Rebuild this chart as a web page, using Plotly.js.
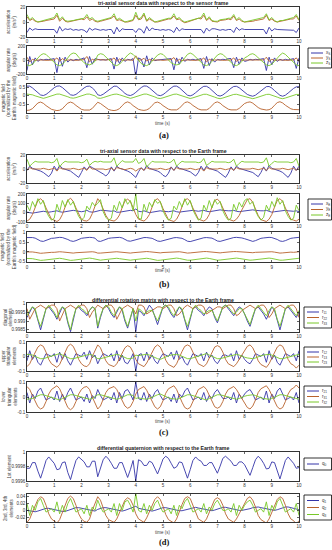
<!DOCTYPE html>
<html><head><meta charset="utf-8">
<script src="https://cdn.plot.ly/plotly-3.0.1.min.js"></script>
<style>html,body{margin:0;padding:0;background:#fff}#chart{width:332px;height:550px}</style>
</head><body><div id="chart"></div>
<script>
// ---------------- data (sampled every 0.1 s from t = 0 to 10 s) ----------------
const T_START = 0, T_STEP = 0.1;
const timeTicks = [0,1,2,3,4,5,6,7,8,9,10];

// (a) sensor frame
const accS_x = [-14,-8,-11,-9,-10,-10,-11,-10,-10,-10, -10,-15,-6,-12,-9,-10,-9,-11,-10,-11,-10, -11,-14,-8,-11,-9,-10,-11,-10,-11,-10, -10,-16,-7,-13,-9,-10,-10,-11,-10,-14,-9, -10,-15,-6,-12,-8,-10,-10,-11,-10,-11,-10, -11,-14,-7,-12,-9,-10,-10,-10,-11,-10,-10, -10,-15,-8,-12,-9,-9,-10,-11,-10,-11,-10, -10,-14,-7,-11,-9,-10,-10,-10,-11,-10,-11,-10, -10,-16,-7,-12,-9,-10,-10,-11,-10,-10,-10, -11,-14,-8];
const accS_y = [7,2,4,1,0,0,1,2,3,4, 4,9,1,5,1,0,1,1,2,3,4, 3,7,2,4,1,0,1,2,3,4, 5,8,2,3,1,0,0,1,2,9,3, 4,10,1,4,2,0,0,1,3,3,4, 4,8,3,4,1,-1,0,1,2,3,5, 4,9,2,5,1,0,0,2,2,3,4, 3,8,2,4,1,0,0,0,1,2,3,4, 4,9,2,4,1,0,1,1,2,3,4, 4,8,2];
const accS_z = [10,3,6,2,0,1,2,3,4,5, 6,12,3,7,2,1,1,2,3,4,5, 5,10,4,6,2,1,2,3,4,6, 6,11,3,5,2,0,1,2,3,13,4, 6,12,2,6,3,0,1,2,4,4,5, 5,11,4,6,2,0,1,2,3,5,6, 6,12,3,7,2,1,1,3,3,4,5, 5,10,3,6,2,0,1,1,2,3,4,5, 6,11,3,6,2,0,2,2,3,4,5, 6,10,3];
const gyrS_x = [-150,50,-70,30,-20,10,0,10,5,15, 20,-180,40,-90,40,-30,10,-10,10,0,20, 30,-110,50,-60,20,10,0,5,0,10, 20,-130,40,-50,30,-20,10,0,20,-240,30, 10,-100,60,-70,30,-10,0,5,10,5,15, 20,-140,30,-60,40,-20,10,0,10,0,10, 20,-120,50,-80,20,-30,10,0,10,5,20, 20,-110,40,-60,30,-20,-10,10,0,10,5,15, 20,-150,40,-70,30,-20,10,-5,10,0,15, 20,-120,30];
const gyrS_y = [40,-30,10,-5,0,5,0,-5,0,5, 0,30,-20,20,-5,0,5,0,-5,0,5, 5,50,-25,10,-5,5,0,-5,0,5, 0,30,-20,15,-5,0,5,0,-5,60,0, 0,25,-15,10,-5,0,5,0,-5,0,5, 5,35,-20,10,-10,0,5,0,-5,0,5, 0,30,-25,10,-5,0,5,0,-5,0,5, 0,30,-20,10,-5,0,0,5,0,-5,0,5, 0,40,-20,10,-5,0,5,0,-5,0,5, 0,30,-20];
const gyrS_z = [-70,-80,-60,-20,30,70,90,80,40,0, -40,-70,-80,-60,-20,30,80,100,90,40,0, -40,-60,-70,-50,-20,70,90,80,40,0, -40,-70,-80,-60,-20,30,70,100,80,40,0, -50,-70,-80,-60,-20,30,70,90,80,40,0, -40,-60,-70,-60,-20,30,80,100,80,40,0, -40,-70,-80,-60,-20,30,70,90,80,40,0, -40,-70,-80,-60,-20,30,50,80,90,70,30,0, -40,-70,-80,-60,-20,30,70,100,80,40,0, -40,-70,-80];
const magS_x = [0.55,0.55,0.45,0.3,0.15,0.05,0.02,0.08,0.2,0.35, 0.46,0.55,0.56,0.47,0.32,0.16,0.06,0.03,0.08,0.2,0.34, 0.45,0.54,0.55,0.45,0.3,0.06,0.02,0.09,0.21,0.36, 0.46,0.55,0.54,0.44,0.29,0.14,0.05,0.02,0.08,0.2,0.35, 0.47,0.56,0.55,0.45,0.31,0.16,0.05,0.01,0.07,0.19,0.34, 0.45,0.55,0.55,0.46,0.31,0.15,0.04,0.0,0.06,0.18,0.33, 0.44,0.54,0.54,0.45,0.3,0.14,0.03,-0.01,0.05,0.17,0.32, 0.43,0.53,0.54,0.46,0.32,0.18,0.08,0.02,-0.02,0.04,0.16,0.31, 0.42,0.52,0.53,0.44,0.3,0.14,0.03,-0.02,0.04,0.16,0.3, 0.42,0.51,0.52];
const magS_y = [-0.82,-0.8,-0.72,-0.55,-0.4,-0.35,-0.42,-0.55,-0.68,-0.76, -0.8,-0.83,-0.81,-0.73,-0.56,-0.41,-0.35,-0.41,-0.54,-0.67,-0.76, -0.8,-0.82,-0.8,-0.71,-0.54,-0.36,-0.43,-0.56,-0.68,-0.77, -0.81,-0.83,-0.8,-0.72,-0.55,-0.4,-0.34,-0.41,-0.55,-0.68,-0.76, -0.8,-0.82,-0.79,-0.71,-0.54,-0.39,-0.35,-0.42,-0.55,-0.67,-0.75, -0.79,-0.81,-0.79,-0.7,-0.53,-0.38,-0.34,-0.41,-0.54,-0.66,-0.74, -0.79,-0.81,-0.79,-0.71,-0.54,-0.39,-0.34,-0.41,-0.55,-0.67,-0.75, -0.79,-0.81,-0.79,-0.71,-0.55,-0.43,-0.37,-0.34,-0.41,-0.54,-0.66,-0.74, -0.78,-0.8,-0.78,-0.7,-0.53,-0.38,-0.33,-0.4,-0.53,-0.65,-0.73, -0.77,-0.79,-0.78];
const magS_z = [0.1,0.1,0.06,0.0,-0.06,-0.12,-0.14,-0.1,-0.04,0.02, 0.06,0.1,0.1,0.06,0.01,-0.05,-0.11,-0.13,-0.1,-0.04,0.02, 0.06,0.1,0.1,0.06,0.0,-0.12,-0.14,-0.1,-0.04,0.02, 0.05,0.09,0.1,0.06,0.0,-0.06,-0.12,-0.14,-0.1,-0.05,0.01, 0.05,0.1,0.1,0.06,0.0,-0.06,-0.13,-0.15,-0.11,-0.05,0.01, 0.05,0.09,0.1,0.05,0.0,-0.07,-0.13,-0.15,-0.11,-0.05,0.01, 0.04,0.09,0.09,0.05,-0.01,-0.07,-0.13,-0.16,-0.12,-0.06,0.0, 0.04,0.08,0.09,0.05,0.0,-0.05,-0.09,-0.13,-0.16,-0.12,-0.06,0.0, 0.04,0.08,0.09,0.05,-0.01,-0.07,-0.13,-0.16,-0.12,-0.06,0.0, 0.04,0.08,0.08];

// (b) Earth frame
const accE_x = [-2,4,1,0,-1,-3,-5,-8,-11,-6, 4,-2,5,1,0,-1,-3,-6,-9,-12,-5, 3,-1,4,2,0,-2,-5,-7,-10,-6, 3,-3,4,1,0,-1,-3,-5,-8,-12,-4, 2,-2,5,1,0,-1,-3,-5,-9,-11,-6, 3,-2,4,1,0,-1,-2,-4,-7,-10,-5, 4,-2,4,1,0,-1,-3,-6,-9,-12,-6, 3,-2,4,1,0,-1,-2,-3,-5,-8,-11,-5, 3,-3,5,1,0,-1,-3,-5,-9,-12,-6, 4,-2,4];
const accE_y = [-2,2,0,0,-1,0,1,0,-1,0, 1,-3,2,0,0,-1,0,1,0,-1,0, 1,-2,3,0,0,0,1,0,-1,0, 1,-2,2,1,0,-1,0,1,0,-3,0, 1,-2,2,0,0,-1,0,1,0,-1,0, 2,-2,2,0,0,-1,0,1,0,-1,0, 1,-3,2,0,0,-1,0,1,0,-1,0, 1,-2,2,0,0,-1,-1,0,1,0,-1,0, 1,-2,2,0,0,-1,0,1,0,-1,0, 1,-2,2];
const accE_z = [14,4,8,11,10,10,11,10,10,9, 10,15,3,8,11,10,10,11,10,10,9, 10,14,5,9,11,10,11,10,10,9, 10,16,4,8,12,10,10,11,10,15,8, 10,15,3,7,11,10,10,11,10,10,9, 10,14,4,8,11,10,10,11,10,10,9, 10,15,5,8,11,10,10,11,10,10,9, 10,14,4,8,11,10,10,10,11,10,10,9, 10,16,4,8,11,10,10,11,10,10,9, 10,15,4];
const gyrE_x = [5,0,-5,0,5,10,15,10,5,10, 15,20,10,5,10,15,20,25,20,15,10, 15,25,10,5,10,20,25,25,20,15, 15,20,5,5,10,15,20,25,20,40,15, 10,20,10,0,5,10,15,20,15,10,10, 15,20,10,5,10,15,20,25,25,20,15, 20,25,15,10,15,20,25,30,25,20,20, 20,25,15,10,15,20,25,30,30,25,20,20, 20,25,15,5,10,15,20,25,25,20,15, 15,20,10];
const gyrE_y = [-90,-70,-20,60,130,150,120,50,-20,-70, -80,-95,-75,-20,60,130,155,120,50,-20,-70, -85,-90,-70,-10,70,150,110,40,-30,-75, -80,-90,-70,-25,55,125,145,120,55,-20,-70, -80,-90,-65,-20,60,130,150,115,45,-25,-75, -85,-95,-70,-15,65,135,150,120,50,-20,-70, -80,-90,-70,-20,60,130,145,115,50,-20,-70, -80,-90,-70,-30,30,90,140,150,110,40,-30,-75, -85,-95,-70,-20,60,130,150,120,50,-20,-70, -80,-90,-70];
const gyrE_z = [80,20,120,60,150,90,130,20,-40,-80, -60,90,10,130,60,140,80,120,30,-40,-80, -50,70,30,110,70,100,140,10,-50,-80, -60,80,20,120,50,150,90,130,20,200,-60, -70,90,10,110,60,140,100,120,20,-40,-80, -60,70,30,120,60,150,80,130,30,-30,-80, -60,80,20,130,50,140,90,120,20,-40,-80, -60,90,20,110,60,130,150,90,120,20,-40,-80, -50,80,20,120,60,160,90,130,20,-40,-80, -60,80,20];
const magE_x = [0.75,0.76,0.75,0.72,0.65,0.57,0.55,0.6,0.67,0.71, 0.72,0.75,0.76,0.75,0.72,0.65,0.58,0.55,0.59,0.66,0.71, 0.73,0.75,0.76,0.75,0.72,0.57,0.55,0.6,0.67,0.71, 0.73,0.75,0.76,0.76,0.73,0.66,0.58,0.56,0.6,0.67,0.71, 0.73,0.75,0.75,0.74,0.71,0.64,0.57,0.55,0.59,0.66,0.7, 0.72,0.74,0.75,0.74,0.71,0.64,0.56,0.54,0.58,0.65,0.7, 0.72,0.74,0.75,0.75,0.72,0.65,0.57,0.55,0.59,0.66,0.71, 0.73,0.75,0.76,0.75,0.73,0.69,0.63,0.57,0.55,0.59,0.66,0.71, 0.73,0.75,0.76,0.75,0.72,0.65,0.57,0.55,0.59,0.66,0.71, 0.73,0.75,0.76];
const magE_y = [0.0,0.01,0.0,-0.02,-0.05,-0.07,-0.06,-0.04,-0.03,-0.02, -0.02,0.0,0.01,0.0,-0.02,-0.05,-0.07,-0.06,-0.04,-0.03,-0.02, -0.02,0.0,0.01,0.01,-0.01,-0.06,-0.06,-0.04,-0.03,-0.02, -0.01,0.0,0.01,0.0,-0.02,-0.04,-0.06,-0.06,-0.04,-0.02,-0.01, -0.01,0.01,0.02,0.01,-0.01,-0.04,-0.06,-0.05,-0.03,-0.02,-0.01, -0.01,0.01,0.02,0.01,-0.01,-0.04,-0.06,-0.05,-0.03,-0.02,-0.01, 0.0,0.02,0.02,0.01,-0.01,-0.03,-0.05,-0.05,-0.03,-0.01,0.0, 0.0,0.02,0.02,0.01,0.0,-0.02,-0.04,-0.05,-0.04,-0.02,-0.01,0.0, -0.01,0.01,0.02,0.01,-0.01,-0.04,-0.06,-0.05,-0.03,-0.02,-0.01, -0.02,0.0,0.01];
const magE_z = [-0.34,-0.33,-0.35,-0.38,-0.42,-0.44,-0.43,-0.41,-0.39,-0.37, -0.36,-0.34,-0.33,-0.35,-0.38,-0.42,-0.44,-0.43,-0.41,-0.39,-0.37, -0.35,-0.33,-0.32,-0.34,-0.37,-0.43,-0.43,-0.41,-0.39,-0.37, -0.36,-0.34,-0.33,-0.35,-0.38,-0.41,-0.43,-0.43,-0.41,-0.39,-0.37, -0.36,-0.34,-0.33,-0.35,-0.38,-0.42,-0.44,-0.43,-0.41,-0.39,-0.37, -0.35,-0.33,-0.32,-0.34,-0.37,-0.41,-0.43,-0.43,-0.41,-0.39,-0.37, -0.35,-0.33,-0.32,-0.34,-0.37,-0.41,-0.43,-0.42,-0.4,-0.38,-0.36, -0.35,-0.33,-0.32,-0.34,-0.37,-0.4,-0.42,-0.43,-0.42,-0.4,-0.38,-0.36, -0.35,-0.33,-0.32,-0.34,-0.37,-0.41,-0.43,-0.43,-0.41,-0.39,-0.37, -0.36,-0.34,-0.33];

// (c) differential rotation matrix
const r11 = [0.9992,0.9995,0.9998,0.9996,0.999,0.9985,0.9991,0.9997,0.9998,0.9996, 0.9994,0.9991,0.9995,0.9998,0.9996,0.9989,0.9984,0.9991,0.9997,0.9998,0.9996, 0.9995,0.9993,0.9996,0.9998,0.9997,0.9986,0.9992,0.9997,0.9999,0.9997, 0.9994,0.9992,0.9995,0.9998,0.9996,0.999,0.9986,0.9991,0.9997,0.9984,0.9996, 0.9995,0.9993,0.9996,0.9999,0.9997,0.9992,0.9988,0.9993,0.9998,0.9999,0.9997, 0.9994,0.9992,0.9995,0.9998,0.9996,0.999,0.9985,0.9991,0.9997,0.9998,0.9996, 0.9995,0.9993,0.9996,0.9998,0.9997,0.9992,0.9989,0.9993,0.9998,0.9999,0.9997, 0.9995,0.9993,0.9996,0.9998,0.9997,0.9994,0.999,0.9987,0.9992,0.9997,0.9998,0.9996, 0.9994,0.9991,0.9995,0.9998,0.9996,0.999,0.9985,0.9991,0.9997,0.9998,0.9996, 0.9994,0.9992,0.9995];
const r22 = [0.9997,0.9991,0.9994,0.9997,0.9998,0.9999,0.9998,0.9997,0.9998,0.9999, 0.9999,0.9997,0.999,0.9994,0.9997,0.9998,0.9999,0.9998,0.9997,0.9998,0.9999, 0.9999,0.9997,0.9992,0.9995,0.9997,0.9999,0.9998,0.9997,0.9998,0.9999, 0.9999,0.9997,0.9991,0.9994,0.9997,0.9998,0.9999,0.9998,0.9997,0.9994,0.9999, 0.9999,0.9998,0.9994,0.9995,0.9996,0.9997,0.9998,0.9998,0.9997,0.9998,0.9999, 0.9999,0.9997,0.9993,0.9994,0.9996,0.9998,0.9999,0.9998,0.9997,0.9998,0.9999, 0.9999,0.9998,0.9994,0.9995,0.9996,0.9997,0.9998,0.9998,0.9997,0.9998,0.9999, 0.9999,0.9997,0.9993,0.9994,0.9996,0.9997,0.9998,0.9999,0.9998,0.9997,0.9998,0.9999, 0.9999,0.9997,0.9992,0.9994,0.9997,0.9998,0.9999,0.9998,0.9997,0.9998,0.9999, 0.9999,0.9997,0.9992];
const r33 = [0.9993,0.9996,0.9998,0.9997,0.9991,0.9987,0.9992,0.9997,0.9999,0.9997, 0.9995,0.9992,0.9996,0.9998,0.9997,0.999,0.9985,0.9992,0.9997,0.9999,0.9997, 0.9996,0.9994,0.9996,0.9998,0.9997,0.9987,0.9993,0.9997,0.9999,0.9998, 0.9995,0.9993,0.9996,0.9998,0.9997,0.9991,0.9987,0.9992,0.9997,0.999,0.9997, 0.9996,0.9994,0.9995,0.9996,0.9996,0.9993,0.999,0.9994,0.9998,0.9999,0.9998, 0.9995,0.9993,0.9996,0.9998,0.9997,0.9991,0.9987,0.9992,0.9997,0.9999,0.9997, 0.9996,0.9994,0.9995,0.9996,0.9996,0.9993,0.999,0.9994,0.9998,0.9999,0.9998, 0.9996,0.9994,0.9995,0.9997,0.9997,0.9994,0.9991,0.9988,0.9993,0.9997,0.9999,0.9997, 0.9995,0.9993,0.9996,0.9998,0.9997,0.9991,0.9987,0.9992,0.9997,0.9999,0.9997, 0.9995,0.9993,0.9996];
const r12 = [-0.03,0.04,-0.02,0.01,-0.04,-0.06,-0.02,0.02,0.01,0.0, 0.02,-0.04,0.03,-0.02,0.02,-0.03,-0.06,-0.02,0.02,0.01,0.0, 0.03,-0.02,0.04,-0.01,0.01,-0.05,-0.01,0.02,0.01,0.0, 0.02,-0.03,0.04,-0.03,0.01,-0.04,-0.05,-0.02,0.02,-0.1,0.01, 0.02,-0.03,0.03,-0.02,0.01,-0.03,-0.05,-0.01,0.02,0.01,0.0, 0.03,-0.02,0.04,-0.02,0.0,-0.04,-0.06,-0.02,0.02,0.01,0.0, 0.02,-0.03,0.03,-0.01,0.01,-0.03,-0.05,-0.02,0.01,0.01,0.0, 0.02,-0.03,0.04,-0.02,0.01,-0.02,-0.04,-0.05,-0.02,0.02,0.01,0.0, 0.02,-0.04,0.04,-0.02,0.01,-0.04,-0.06,-0.02,0.02,0.01,0.0, 0.02,-0.03,0.04];
const r13 = [-0.07,-0.05,-0.01,0.03,0.065,0.08,0.07,0.03,-0.02,-0.05, -0.06,-0.075,-0.055,-0.01,0.035,0.07,0.085,0.07,0.03,-0.02,-0.05, -0.065,-0.07,-0.05,0.0,0.04,0.08,0.06,0.02,-0.03,-0.055, -0.06,-0.07,-0.05,-0.015,0.025,0.06,0.075,0.065,0.03,-0.02,-0.05, -0.06,-0.07,-0.045,-0.01,0.03,0.065,0.08,0.065,0.025,-0.025,-0.055, -0.065,-0.075,-0.05,-0.005,0.035,0.07,0.08,0.07,0.03,-0.02,-0.05, -0.06,-0.07,-0.05,-0.01,0.03,0.065,0.075,0.065,0.03,-0.02,-0.05, -0.06,-0.07,-0.05,-0.02,0.015,0.045,0.07,0.08,0.06,0.02,-0.03,-0.055, -0.065,-0.075,-0.05,-0.01,0.03,0.065,0.08,0.07,0.03,-0.02,-0.05, -0.06,-0.08,-0.06];
const r23 = [0.015,0.015,0.01,0.0,-0.01,-0.015,-0.015,-0.01,0.0,0.005, 0.01,0.015,0.02,0.01,0.0,-0.01,-0.015,-0.015,-0.01,0.0,0.005, 0.01,0.015,0.015,0.01,0.0,-0.015,-0.015,-0.01,0.0,0.005, 0.01,0.015,0.015,0.01,0.0,-0.01,-0.015,-0.015,-0.01,0.01,0.005, 0.01,0.015,0.015,0.01,0.0,-0.01,-0.015,-0.02,-0.01,0.0,0.005, 0.01,0.015,0.015,0.01,0.0,-0.01,-0.015,-0.015,-0.01,0.0,0.005, 0.01,0.015,0.02,0.01,0.0,-0.01,-0.015,-0.015,-0.01,0.0,0.005, 0.01,0.015,0.015,0.01,0.0,-0.005,-0.01,-0.015,-0.015,-0.01,0.0,0.005, 0.01,0.015,0.015,0.01,0.0,-0.01,-0.015,-0.015,-0.01,0.0,0.005, 0.01,0.015,0.015];
const r21 = [0.03,-0.04,0.02,-0.01,0.04,0.06,0.02,-0.02,-0.01,0.0, -0.02,0.04,-0.03,0.02,-0.02,0.03,0.06,0.02,-0.02,-0.01,0.0, -0.03,0.02,-0.04,0.01,-0.01,0.05,0.01,-0.02,-0.01,0.0, -0.02,0.03,-0.04,0.03,-0.01,0.04,0.05,0.02,-0.02,0.1,-0.01, -0.02,0.03,-0.03,0.02,-0.01,0.03,0.05,0.01,-0.02,-0.01,0.0, -0.03,0.02,-0.04,0.02,0.0,0.04,0.06,0.02,-0.02,-0.01,0.0, -0.02,0.03,-0.03,0.01,-0.01,0.03,0.05,0.02,-0.01,-0.01,0.0, -0.02,0.03,-0.04,0.02,-0.01,0.02,0.04,0.05,0.02,-0.02,-0.01,0.0, -0.02,0.04,-0.04,0.02,-0.01,0.04,0.06,0.02,-0.02,-0.01,0.0, -0.02,0.03,-0.04];
const r31 = [0.07,0.05,0.01,-0.03,-0.065,-0.08,-0.07,-0.03,0.02,0.05, 0.06,0.075,0.055,0.01,-0.035,-0.07,-0.085,-0.07,-0.03,0.02,0.05, 0.065,0.07,0.05,0.0,-0.04,-0.08,-0.06,-0.02,0.03,0.055, 0.06,0.07,0.05,0.015,-0.025,-0.06,-0.075,-0.065,-0.03,0.02,0.05, 0.06,0.07,0.045,0.01,-0.03,-0.065,-0.08,-0.065,-0.025,0.025,0.055, 0.065,0.075,0.05,0.005,-0.035,-0.07,-0.08,-0.07,-0.03,0.02,0.05, 0.06,0.07,0.05,0.01,-0.03,-0.065,-0.075,-0.065,-0.03,0.02,0.05, 0.06,0.07,0.05,0.02,-0.015,-0.045,-0.07,-0.08,-0.06,-0.02,0.03,0.055, 0.065,0.075,0.05,0.01,-0.03,-0.065,-0.08,-0.07,-0.03,0.02,0.05, 0.06,0.08,0.06];
const r32 = [-0.015,-0.015,-0.01,0.0,0.01,0.015,0.015,0.01,0.0,-0.005, -0.01,-0.015,-0.02,-0.01,0.0,0.01,0.015,0.015,0.01,0.0,-0.005, -0.01,-0.015,-0.015,-0.01,0.0,0.015,0.015,0.01,0.0,-0.005, -0.01,-0.015,-0.015,-0.01,0.0,0.01,0.015,0.015,0.01,-0.01,-0.005, -0.01,-0.015,-0.015,-0.01,0.0,0.01,0.015,0.02,0.01,0.0,-0.005, -0.01,-0.015,-0.015,-0.01,0.0,0.01,0.015,0.015,0.01,0.0,-0.005, -0.01,-0.015,-0.02,-0.01,0.0,0.01,0.015,0.015,0.01,0.0,-0.005, -0.01,-0.015,-0.015,-0.01,0.0,0.005,0.01,0.015,0.015,0.01,0.0,-0.005, -0.01,-0.015,-0.015,-0.01,0.0,0.01,0.015,0.015,0.01,0.0,-0.005, -0.01,-0.015,-0.015];

// (d) differential quaternion
const q0 = [0.99978,0.99978,0.99986,0.99986,0.99974,0.99964,0.99976,0.99989,0.99994,0.9999, 0.99985,0.99976,0.99977,0.99986,0.99987,0.99972,0.99962,0.99976,0.99989,0.99994,0.9999, 0.99987,0.9998,0.9998,0.99988,0.99988,0.99966,0.99978,0.9999,0.99995,0.99991, 0.99985,0.99978,0.99978,0.99986,0.99986,0.99974,0.99965,0.99976,0.99989,0.9996,0.9999, 0.99988,0.99982,0.99982,0.99988,0.99986,0.99978,0.9997,0.9998,0.99991,0.99995,0.99992, 0.99985,0.99978,0.9998,0.99987,0.99986,0.99974,0.99964,0.99976,0.99989,0.99994,0.9999, 0.99988,0.99982,0.99982,0.99986,0.99986,0.99978,0.99971,0.99981,0.99992,0.99995,0.99992, 0.99988,0.99982,0.99982,0.99987,0.99987,0.99983,0.99975,0.99968,0.99979,0.9999,0.99995,0.99991, 0.99985,0.99977,0.99978,0.99987,0.99986,0.99974,0.99963,0.99976,0.99989,0.99994,0.9999, 0.99985,0.99978,0.99979];
const q1 = [0.0,-0.002,-0.004,-0.004,-0.002,0.001,0.004,0.006,0.006,0.004, 0.003,0.001,-0.001,-0.003,-0.003,0.0,0.003,0.006,0.008,0.008,0.006, 0.004,0.002,0.0,-0.002,-0.002,0.003,0.006,0.008,0.008,0.006, 0.004,0.002,0.0,-0.002,-0.002,0.0,0.003,0.006,0.008,0.012,0.006, 0.004,0.002,0.0,-0.002,-0.002,0.0,0.003,0.006,0.008,0.008,0.006, 0.005,0.003,0.001,-0.001,-0.001,0.001,0.004,0.007,0.009,0.009,0.007, 0.005,0.003,0.001,-0.001,-0.001,0.001,0.004,0.007,0.009,0.009,0.007, 0.006,0.004,0.002,0.0,0.0,0.001,0.003,0.005,0.008,0.01,0.01,0.008, 0.006,0.004,0.002,0.0,0.0,0.002,0.005,0.008,0.01,0.01,0.008, 0.006,0.004,0.002];
const q2 = [-0.035,-0.025,-0.005,0.015,0.032,0.04,0.035,0.015,-0.01,-0.025, -0.03,-0.037,-0.027,-0.005,0.017,0.035,0.042,0.035,0.015,-0.01,-0.025, -0.032,-0.035,-0.025,0.0,0.02,0.04,0.03,0.01,-0.015,-0.027, -0.03,-0.035,-0.025,-0.007,0.012,0.03,0.037,0.032,0.015,-0.01,-0.025, -0.03,-0.035,-0.022,-0.005,0.015,0.032,0.04,0.032,0.012,-0.012,-0.027, -0.032,-0.037,-0.025,-0.002,0.017,0.035,0.04,0.035,0.015,-0.01,-0.025, -0.03,-0.035,-0.025,-0.005,0.015,0.032,0.037,0.032,0.015,-0.01,-0.025, -0.03,-0.035,-0.025,-0.01,0.007,0.022,0.035,0.04,0.03,0.01,-0.015,-0.027, -0.032,-0.037,-0.025,-0.005,0.015,0.032,0.04,0.035,0.015,-0.01,-0.025, -0.03,-0.04,-0.03];
const q3 = [0.02,-0.015,0.015,0.0,0.025,0.035,0.015,-0.005,0.0,0.005, -0.005,0.025,-0.01,0.015,-0.005,0.02,0.035,0.015,-0.005,0.0,0.005, -0.01,0.015,-0.015,0.01,0.0,0.03,0.01,-0.005,0.0,0.005, -0.005,0.02,-0.015,0.02,0.0,0.025,0.03,0.015,-0.005,0.05,0.0, -0.005,0.02,-0.01,0.015,0.0,0.02,0.03,0.01,-0.005,0.0,0.005, -0.01,0.015,-0.015,0.015,0.005,0.025,0.035,0.015,-0.005,0.0,0.005, -0.005,0.02,-0.01,0.01,0.0,0.02,0.03,0.015,0.0,0.0,0.005, -0.005,0.02,-0.015,0.015,0.0,0.015,0.025,0.03,0.015,-0.005,0.0,0.005, -0.005,0.025,-0.015,0.015,0.0,0.025,0.035,0.015,-0.005,0.0,0.005, -0.005,0.02,-0.015];

// tick values / labels
const tvAcc = [-20,0,20], ttAcc = ['-20','0','20'];
const tvGyrS = [-200,0,200], ttGyrS = ['-200','0','200'];
const tvMagS = [-0.5,0,0.5], ttMagS = ['-0.5','0','0.5'];
const tvGyrE = [-100,0,100,200], ttGyrE = ['-100','0','100','200'];
const tvMagE = [-0.5,0,0.5,1], ttMagE = ['-0.5','0','0.5','1'];
const tvDiag = [0.9985,0.999,0.9995,1], ttDiag = ['0.9985','0.999','0.9995','1'];
const tvTri = [-0.1,0,0.1], ttTri = ['-0.1','0','0.1'];
const tvQ0 = [0.9996,0.9998,1], ttQ0 = ['0.9996','0.9998','1'];
const tvQv = [-0.02,0,0.02,0.04], ttQv = ['-0.02','0','0.02','0.04'];

const labelsA = ['x<sub>S</sub>','y<sub>S</sub>','z<sub>S</sub>'];
const labelsB = ['x<sub>E</sub>','y<sub>E</sub>','z<sub>E</sub>'];
const labelsDiag = ['r<sub>11</sub>','r<sub>22</sub>','r<sub>33</sub>'];
const labelsUp = ['r<sub>12</sub>','r<sub>13</sub>','r<sub>23</sub>'];
const labelsLow = ['r<sub>21</sub>','r<sub>31</sub>','r<sub>32</sub>'];
const labelsQ0 = ['q<sub>0</sub>'];
const labelsQv = ['q<sub>1</sub>','q<sub>2</sub>','q<sub>3</sub>'];

// ---------------- layout ----------------
const W = 332, H = 550;
const PX = p => p / W, PY = p => 1 - p / H;
const COLORS = ['#3434a8', '#b8622c', '#78c828'];
const FONT = 'Liberation Sans, Arial, sans-serif';
const XL = 27, XR = 299;

const panels = [
  {top:7,  bot:37,  range:[-20,20],        tv:tvAcc,  tt:ttAcc,  s:[accS_x,accS_y,accS_z], yt:'acceleration<br>(m/s<sup>2</sup>)', tx:11},
  {top:46, bot:74,  range:[-200,200],      tv:tvGyrS, tt:ttGyrS, s:[gyrS_x,gyrS_y,gyrS_z], yt:'angular rate<br>(deg/s)', tx:11},
  {top:84, bot:112.7, range:[-0.95,0.67],  tv:tvMagS, tt:ttMagS, s:[magS_x,magS_y,magS_z], yt:'magnetic field<br>(normalized by the<br>Earth\'s magnetic field)', tx:9},
  {top:155,bot:183, range:[-20,20],        tv:tvAcc,  tt:ttAcc,  s:[accE_x,accE_y,accE_z], yt:'acceleration<br>(m/s<sup>2</sup>)', tx:11},
  {top:194,bot:222, range:[-100,200],      tv:tvGyrE, tt:ttGyrE, s:[gyrE_x,gyrE_y,gyrE_z], yt:'angular rate<br>(deg/s)', tx:11},
  {top:232,bot:262.3, range:[-0.54,1.04],  tv:tvMagE, tt:ttMagE, s:[magE_x,magE_y,magE_z], yt:'magnetic field<br>(normalized by the<br>Earth\'s magnetic field)', tx:8},
  {top:303,bot:332, range:[0.99838,1.00002],tv:tvDiag,tt:ttDiag, s:[r11,r22,r33], yt:'diagonal<br>elements', tx:8},
  {top:342,bot:371, range:[-0.1,0.1],      tv:tvTri,  tt:ttTri,  s:[r12,r13,r23], yt:'upper<br>triangular<br>elements', tx:9},
  {top:382,bot:412, range:[-0.1,0.1],      tv:tvTri,  tt:ttTri,  s:[r21,r31,r32], yt:'lower<br>triangular<br>elements', tx:9},
  {top:452,bot:481, range:[0.9996,1.00001],tv:tvQ0,   tt:ttQ0,   s:[q0], yt:'1st element', tx:9},
  {top:494,bot:522, range:[-0.034,0.048],  tv:tvQv,   tt:ttQv,   s:[q1,q2,q3], yt:'2nd, 3rd, 4th<br>elements', tx:8}
];

const traces = [];
const layout = {
  width: W, height: H, margin:{l:0,r:0,t:0,b:0},
  paper_bgcolor:'#fff', plot_bgcolor:'#fff', showlegend:false,
  font:{family:FONT, size:4.5, color:'#333'},
  annotations:[], shapes:[]
};

panels.forEach((p, k) => {
  const n = k + 1, sfx = n === 1 ? '' : String(n);
  p.s.forEach((arr, j) => {
    traces.push({type:'scatter', mode:'lines', x0:T_START, dx:T_STEP, y:arr,
      xaxis:'x'+sfx, yaxis:'y'+sfx, line:{color:COLORS[j], width:0.9}, hoverinfo:'skip'});
  });
  const common = {showline:true, linecolor:'#000', linewidth:0.8, mirror:'ticks', ticks:'inside',
    ticklen:2, tickwidth:0.6, tickcolor:'#000', showgrid:false, zeroline:false,
    tickfont:{size:4.5, color:'#333', family:FONT}};
  layout['xaxis'+sfx] = Object.assign({}, common, {domain:[PX(XL), PX(XR)], range:[0,10],
    tickmode:'array', tickvals:timeTicks, ticktext:timeTicks.map(String), anchor:'y'+sfx, ticklabelstandoff:0});
  layout['yaxis'+sfx] = Object.assign({}, common, {domain:[PY(p.bot), PY(p.top)], range:p.range,
    tickmode:'array', tickvals:p.tv, ticktext:p.tt, anchor:'x'+sfx, ticklabelstandoff:0});
  layout.annotations.push({xref:'paper', yref:'paper', x:PX(p.tx), y:PY((p.top+p.bot)/2),
    text:p.yt, textangle:-90, showarrow:false, xanchor:'center', yanchor:'middle',
    font:{size:4.5, color:'#444', family:FONT}});
});

// group titles, x titles, sub-figure letters
const titles = [
  ['tri-axial sensor data with respect to the sensor frame', 3],
  ['tri-axial sensor data with respect to the Earth frame', 151],
  ['differential rotation matrix with respect to the Earth frame', 299.5],
  ['differential quaternion with respect to the Earth frame', 448]
];
titles.forEach(t => layout.annotations.push({xref:'paper', yref:'paper', x:PX(163), y:PY(t[1]),
  text:'<b>'+t[0]+'</b>', showarrow:false, xanchor:'center', yanchor:'middle',
  font:{size:5.2, color:'#222', family:FONT}}));
[123, 270.5, 421, 532].forEach(y => layout.annotations.push({xref:'paper', yref:'paper',
  x:PX(163), y:PY(y), text:'time (s)', showarrow:false, xanchor:'center', yanchor:'middle',
  font:{size:4.5, color:'#444', family:FONT}}));
[['(a)',135],['(b)',284],['(c)',432],['(d)',542]].forEach(l => layout.annotations.push({xref:'paper', yref:'paper',
  x:PX(164), y:PY(l[1]), text:'<b>'+l[0]+'</b>', showarrow:false, xanchor:'center', yanchor:'middle',
  font:{size:8.5, color:'#111', family:'Liberation Serif, DejaVu Serif, serif'}}));

// legend boxes
const legends = [
  {x0:308, x1:331.5, y0:48, y1:68, rows:[53,58,63], labels:labelsA},
  {x0:308, x1:331.5, y0:199, y1:220, rows:[204,209.5,215], labels:labelsB},
  {x0:304, x1:331.5, y0:307, y1:328, rows:[312,317.5,323], labels:labelsDiag},
  {x0:304, x1:331.5, y0:347, y1:367, rows:[352,357,362], labels:labelsUp},
  {x0:304, x1:331.5, y0:386, y1:407, rows:[391,396.5,402], labels:labelsLow},
  {x0:304, x1:331.5, y0:458, y1:470, rows:[464], labels:labelsQ0},
  {x0:304, x1:331.5, y0:495, y1:520, rows:[500.5,507.5,514.5], labels:labelsQv}
];
legends.forEach(L => {
  layout.shapes.push({type:'rect', xref:'paper', yref:'paper', x0:PX(L.x0), x1:PX(L.x1), y0:PY(L.y1), y1:PY(L.y0),
    line:{color:'#000', width:0.8}, fillcolor:'#fff'});
  L.rows.forEach((ry, j) => {
    layout.shapes.push({type:'line', xref:'paper', yref:'paper', x0:PX(L.x0+3), x1:PX(L.x0+15), y0:PY(ry), y1:PY(ry),
      line:{color:COLORS[j], width:1}});
    layout.annotations.push({xref:'paper', yref:'paper', x:PX(L.x0+16), y:PY(ry), text:L.labels[j],
      showarrow:false, xanchor:'left', yanchor:'middle', font:{size:4.5, color:'#333', family:FONT}});
  });
});

Plotly.newPlot('chart', traces, layout, {displayModeBar:false, staticPlot:true});
</script>
</body></html>
